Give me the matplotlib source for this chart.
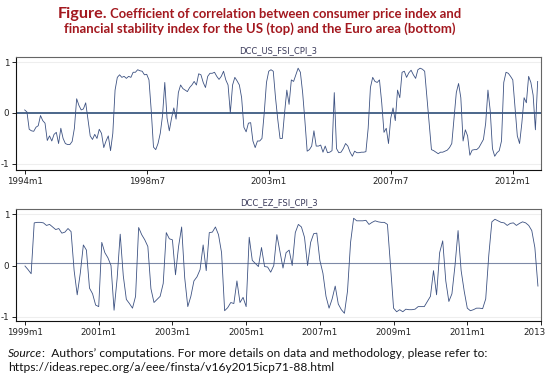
import numpy as np
import matplotlib
matplotlib.use("Agg")
import matplotlib.pyplot as plt
from matplotlib.transforms import ScaledTranslation

# ---------------- data ----------------
us_start = 1994  # 1994m1, monthly
us_values = [
    0.06, 0.02, -0.32, -0.35, -0.36, -0.28, -0.25, -0.05, -0.15, -0.20,
    -0.54, -0.45, -0.55, -0.42, -0.38, -0.60, -0.30, -0.50, -0.60, -0.62,
    -0.62, -0.56, -0.30, 0.28, 0.15, 0.06, 0.08, 0.20, -0.12, -0.45,
    -0.52, -0.42, -0.50, -0.32, -0.40, -0.68, -0.55, -0.45, -0.74, -0.40,
    0.45, 0.70, 0.75, 0.70, 0.72, 0.68, 0.72, 0.70, 0.80, 0.80,
    0.85, 0.83, 0.82, 0.75, 0.76, 0.65, 0.05, -0.67, -0.72, -0.60,
    -0.40, -0.05, 0.60, -0.10, -0.35, -0.10, 0.10, -0.12, 0.40, 0.55,
    0.48, 0.45, 0.42, 0.50, 0.55, 0.62, 0.55, 0.77, 0.75, 0.60,
    0.50, 0.72, 0.78, 0.78, 0.80, 0.72, 0.66, 0.72, 0.82, 0.65,
    0.55, 0.00, 0.55, 0.70, 0.63, 0.55, 0.30, -0.28, -0.37, -0.20,
    -0.19, -0.55, -0.68, -0.55, -0.55, -0.50, 0.00, 0.60, 0.82, 0.85,
    0.82, 0.30, -0.13, -0.50, -0.50, 0.00, 0.45, 0.17, 0.65, 0.62,
    0.75, 0.88, 0.80, 0.40, -0.15, -0.75, -0.72, -0.65, -0.35, -0.65,
    -0.65, -0.63, -0.77, -0.65, -0.78, -0.77, -0.74, 0.40, -0.70, -0.78,
    -0.77, -0.70, -0.60, -0.65, -0.77, -0.85, -0.75, -0.78, -0.78, -0.77,
    -0.77, -0.76, -0.30, 0.50, 0.70, 0.62, 0.60, 0.65, 0.20, -0.38,
    -0.30, -0.60, -0.10, 0.10, -0.15, 0.45, 0.30, 0.80, 0.82, 0.70,
    0.79, 0.84, 0.75, 0.68, 0.85, 0.88, 0.86, 0.82, 0.30, -0.20,
    -0.72, -0.74, -0.77, -0.80, -0.77, -0.77, -0.75, -0.73, -0.68, -0.60,
    -0.10, 0.40, 0.58, 0.30, -0.55, -0.33, -0.45, -0.83, -0.73, -0.72,
    -0.72, -0.68, -0.60, -0.52, -0.20, 0.45, 0.05, -0.70, -0.85, -0.78,
    -0.74, -0.55, 0.60, 0.80, 0.78, 0.72, 0.65, 0.10, -0.45, -0.60,
    -0.20, 0.30, 0.20, 0.72, 0.60, 0.35, -0.33, 0.62,
]
us_ticks = [1994.0, 1998.5, 2003.0, 2007.5, 2012.0]
us_ticklabels = ["1994m1", "1998m7", "2003m1", "2007m7", "2012m1"]

ez_start = 1999  # 1999m1, monthly
ez_values = [
    -0.01, -0.08, -0.16, 0.83, 0.84, 0.84, 0.83, 0.78, 0.80, 0.75,
    0.70, 0.72, 0.63, 0.65, 0.72, 0.66, -0.10, -0.57, -0.15, 0.40,
    0.30, -0.44, -0.55, -0.77, -0.80, 0.45, 0.25, 0.15, 0.00, -0.87,
    -0.25, 0.61, -0.20, -0.66, -0.74, -0.83, -0.60, 0.74, 0.60, 0.50,
    0.37, -0.45, -0.72, -0.66, -0.60, -0.35, 0.64, 0.52, 0.50, -0.18,
    0.37, 0.75, -0.24, -0.80, -0.60, -0.30, -0.22, -0.08, 0.40, -0.10,
    0.64, 0.65, 0.75, 0.60, 0.25, -0.88, -0.82, -0.72, -0.74, -0.30,
    -0.72, -0.62, -0.80, 0.55, 0.10, 0.04, -0.02, 0.35, -0.02, -0.03,
    -0.13, 0.00, 0.60, 0.28, -0.05, 0.25, 0.30, 0.00, 0.64, 0.80,
    0.75, 0.55, 0.00, 0.45, 0.62, 0.63, 0.10, -0.15, -0.60, -0.83,
    -0.65, -0.40, -0.75, -0.86, -0.93, -0.50, 0.45, 0.92, 0.87, 0.87,
    0.87, 0.88, 0.80, 0.84, 0.87, 0.85, 0.84, 0.84, 0.80, 0.00,
    -0.83, -0.90, -0.86, -0.90, -0.85, -0.86, -0.86, -0.85, -0.80, -0.80,
    -0.80, -0.70, -0.60, -0.10, -0.57, 0.25, 0.48, -0.30, -0.70, -0.55,
    0.00, 0.68, -0.10, -0.50, -0.83, -0.88, -0.86, -0.83, -0.83, -0.84,
    -0.65, 0.20, 0.85, 0.90, 0.87, 0.84, 0.83, 0.78, 0.82, 0.83,
    0.78, 0.82, 0.85, 0.83, 0.78, 0.68, 0.35, -0.40,
]
ez_ref_line = 0.04
ez_ticks = [1999.0, 2001.0, 2003.0, 2005.0, 2007.0, 2009.0, 2011.0, 2013.0]
ez_ticklabels = ["1999m1", "2001m1", "2003m1", "2005m1", "2007m1", "2009m1", "2011m1", "2013"]

y_ticks = [-1, 0, 1]
y_ticklabels = ["-1", "0", "1"]

title_head = "Figure."
title_line1 = " Coefficient of correlation between consumer price index and"
title_line2 = "financial stability index for the US (top) and the Euro area (bottom)"
src_head = "Source"
src_line1 = ":  Authors\u2019 computations. For more details on data and methodology, please refer to:"
src_line2 = "https://ideas.repec.org/a/eee/finsta/v16y2015icp71-88.html"

# ---------------- style ----------------
W, H = 550, 375
LINE = "#3d5282"
RED = "#a3181f"

fig = plt.figure(figsize=(W / 100, H / 100), dpi=100)
fig.patch.set_facecolor("white")


def px_ax(l, r, t, b):
    return [l / W, 1 - b / H, (r - l) / W, (b - t) / H]


def style_axes(ax, ticks, labels, xlim, ylim, title):
    ax.set_xlim(*xlim)
    ax.set_ylim(*ylim)
    ax.set_xticks(ticks)
    ax.set_xticklabels(labels)
    ax.set_yticks(y_ticks)
    ax.set_yticklabels(y_ticklabels)
    for y in (-1, 1):
        ax.axhline(y, color="#eeeeee", lw=0.8, zorder=0)
    ax.tick_params(axis="both", direction="out", length=3, width=0.7,
                   labelsize=6.3, colors="#222222", pad=2)
    for s in ("left", "bottom"):
        ax.spines[s].set_color("#111111")
        ax.spines[s].set_linewidth(0.8)
    for s in ("top", "right"):
        ax.spines[s].set_color("#666666")
        ax.spines[s].set_linewidth(0.8)
    ax.set_title(title, fontsize=6, color="#3a3a5a", pad=3)


# top panel
ax1 = fig.add_axes(px_ax(16, 541, 57, 170))
t_us = us_start + np.arange(len(us_values)) / 12.0
ax1.axhline(0, color="#1a3d6b", lw=1.1, zorder=2)
ax1.plot(t_us, us_values, color=LINE, lw=0.6, zorder=3)
style_axes(ax1, us_ticks, us_ticklabels, (1993.68, 2013.04), (-1.12, 1.1), "DCC_US_FSI_CPI_3")

# bottom panel
ax2 = fig.add_axes(px_ax(16, 541, 209, 321))
t_ez = ez_start + np.arange(len(ez_values)) / 12.0
ax2.axhline(ez_ref_line, color="#7d89a6", lw=0.8, zorder=2)
ax2.plot(t_ez, ez_values, color=LINE, lw=0.6, zorder=3)
style_axes(ax2, ez_ticks, ez_ticklabels, (1998.756, 2013.0), (-1.08, 1.1), "DCC_EZ_FSI_CPI_3")
last = ax2.get_xticklabels()[-1]
last.set_transform(last.get_transform() + ScaledTranslation(-6 / 100, 0, fig.dpi_scale_trans))

# ---------------- texts ----------------
fig.canvas.draw()
r = fig.canvas.get_renderer()


def fit(text_objs, target_w):
    w = sum(t.get_window_extent(r).width for t in text_objs)
    k = target_w / w
    for t in text_objs:
        t.set_fontsize(t.get_fontsize() * k)
    fig.canvas.draw()


tfam = ["Lato", "DejaVu Sans"]
h1 = fig.text(0, 0, title_head, fontsize=12.5, weight="bold", color=RED, family=tfam)
l1 = fig.text(0, 0, title_line1, fontsize=10, weight="bold", color=RED, family=tfam)
l2 = fig.text(0, 0, title_line2, fontsize=10, weight="bold", color=RED, family=tfam)
fit([h1, l1], 405)
fit([l2], 393)

center = 259.5
w_h1 = h1.get_window_extent(r).width
w_l1 = l1.get_window_extent(r).width
x0 = center - (w_h1 + w_l1) / 2
h1.set_position((x0 / W, 1 - 18 / H))
l1.set_position(((x0 + w_h1) / W, 1 - 18 / H))
l2.set_position((center / W, 1 - 33 / H))
l2.set_ha("center")

sfam = ["Lato", "DejaVu Sans"]
s_h = fig.text(0, 0, src_head, fontsize=8, style="italic", color="#111111", family=sfam)
s1 = fig.text(0, 0, src_line1, fontsize=8, color="#111111", family=sfam)
s2 = fig.text(0, 0, src_line2, fontsize=8, color="#111111", family=sfam)
fit([s_h, s1], 479)
s2.set_fontsize(s1.get_fontsize())
fig.canvas.draw()
w_sh = s_h.get_window_extent(r).width
s_h.set_position((8 / W, 1 - 357 / H))
s1.set_position(((8 + w_sh) / W, 1 - 357 / H))
s2.set_position((8 / W, 1 - 371 / H))

fig.savefig("out.png", dpi=100, facecolor="white")
